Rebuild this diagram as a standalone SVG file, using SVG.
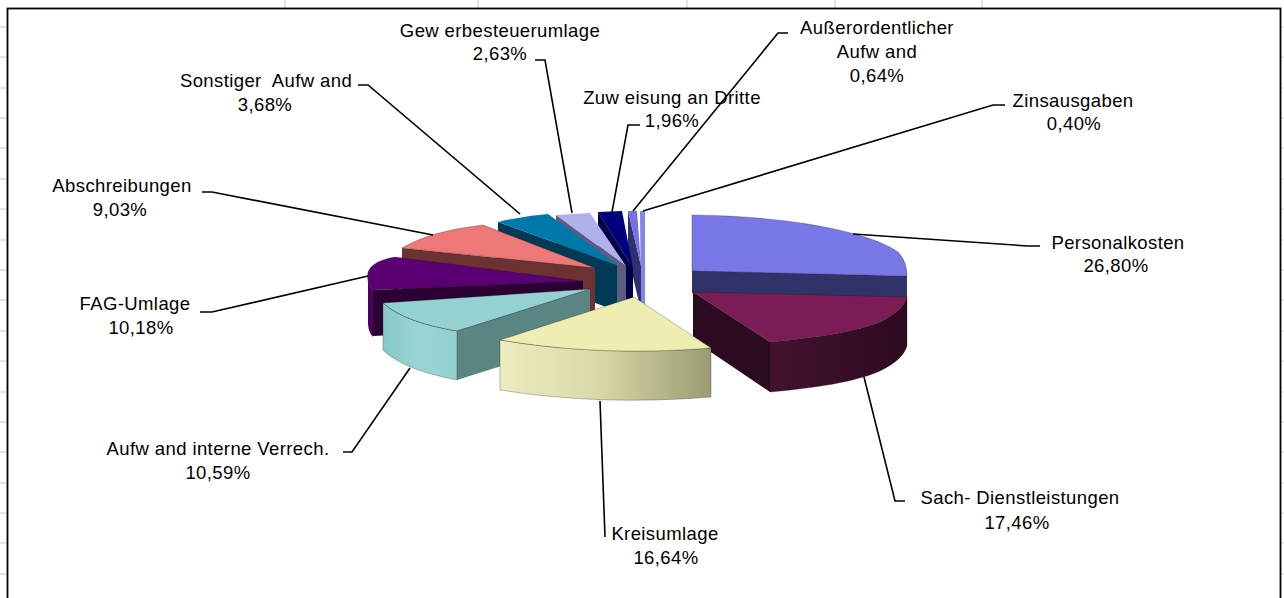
<svg xmlns="http://www.w3.org/2000/svg" width="1284" height="598" viewBox="0 0 1284 598">
<defs>
<style>
text{font-family:"Liberation Sans",Arial,sans-serif;font-size:18.5px;letter-spacing:0.4px;fill:#000;text-anchor:middle}
.ld{fill:none;stroke:#000;stroke-width:1.6;stroke-linejoin:miter}
.grid{stroke:#c8c8c8;stroke-width:1}
.e{stroke:#1a1a1a;stroke-opacity:.35;stroke-width:.8;stroke-linejoin:round}
</style>
<linearGradient id="gKreis" x1="500" y1="0" x2="712" y2="0" gradientUnits="userSpaceOnUse">
<stop offset="0" stop-color="#ececbf"/><stop offset="0.45" stop-color="#d9d9a9"/><stop offset="1" stop-color="#9b9b73"/>
</linearGradient>
<linearGradient id="gVer" x1="383" y1="0" x2="457" y2="0" gradientUnits="userSpaceOnUse">
<stop offset="0" stop-color="#88c8c8"/><stop offset="0.5" stop-color="#9ad6d6"/><stop offset="1" stop-color="#92cfcf"/>
</linearGradient>
<linearGradient id="gSach" x1="770" y1="0" x2="907" y2="0" gradientUnits="userSpaceOnUse">
<stop offset="0" stop-color="#44122f"/><stop offset="1" stop-color="#2c0a20"/>
</linearGradient>
</defs>
<rect width="1284" height="598" fill="#fff"/>
<g id="sheet-grid" class="grid">
<path d="M0,27H7M0,57H7M0,88H7M0,118H7M0,148H7M0,179H7M0,209H7M0,240H7M0,270H7M0,300H7M0,331H7M0,361H7M0,392H7M0,422H7M0,452H7M0,483H7M0,513H7M0,543H7M0,574H7"/>
<path d="M1281,27H1284M1281,57H1284M1281,88H1284M1281,118H1284M1281,148H1284M1281,179H1284M1281,209H1284M1281,240H1284M1281,270H1284M1281,300H1284M1281,331H1284M1281,361H1284M1281,392H1284M1281,422H1284M1281,452H1284M1281,483H1284M1281,513H1284M1281,543H1284M1281,574H1284"/>
<path d="M285,0V8M478,0V8M687,0V8M835,0V8M982,0V8"/>
</g>
<rect id="chart-area" x="7.5" y="8.5" width="1273" height="600" fill="#fff" stroke="#000" stroke-width="1.8"/>

<g id="slice-zinsausgaben">
<polygon points="640,211 645,211 645,308 641,308" fill="#8383ea"/>
</g>
<g id="slice-ausserordentlicher">
<polygon points="628,211 641,266 641,311 628,256" fill="#30306e"/>
<polygon points="628,211 637,211 641,266" fill="#7272e2"/>
</g>
<g id="slice-zuweisung">
<polygon points="598,212 633,268 633,312 598,257" fill="#000046"/>
<polygon points="598,212 622,211 633,268" fill="#00007e"/>
</g>
<g id="slice-gewerbesteuer">
<polygon points="556,215 626,266 626,311 556,260" fill="#5c5c84"/>
<polygon points="556,215 590,213 626,266" fill="#b0b0ea"/>
</g>
<g id="slice-sonstiger">
<polygon points="498,222 617,265 617,311 498,267" fill="#003a56"/>
<path d="M498,222 Q522,216 548,214 L617,265 Z" fill="#0079aa"/>
</g>
<g id="slice-abschreibungen">
<polygon points="402,248 595,268 595,313 402,293" fill="#6c3232"/>
<path class="e" d="M402,248 Q430,231 483,225 L595,268 Z" fill="#ee7777"/>
</g>
<g id="slice-fag">
<polygon points="373,290 583,281 583,326 373,336" fill="#2a0035"/>
<path d="M368,272 Q367,284 373,290 L373,337 Q367,331 368,318 Z" fill="#4a005e"/>
<path class="e" d="M395,257 L583,281 L373,290 Q366,283 368,272 Q372,261 395,257 Z" fill="#5b0072"/>
</g>
<g id="slice-verrech">
<polygon points="590,289 457,331 457,380 590,338" fill="#5a8582"/>
<path class="e" d="M383,303 C400,318 427,326 457,331 L457,380 C427,374 400,366 383,350 Z" fill="url(#gVer)"/>
<path class="e" d="M383,303 L590,289 L457,331 C427,326 400,318 383,303 Z" fill="#94d1d1"/>
</g>
<g id="slice-personalkosten">
<polygon points="692,270 907,276 907,298 692,293" fill="#30336a"/>
<path class="e" d="M692,215 C790,216 870,232 898,252 Q907,261 907,276 L692,271 Z" fill="#7777e8"/>
</g>
<g id="slice-sach">
<polygon points="693,292 770,342 770,392 693,340" fill="#2c0a20"/>
<path class="e" d="M770,342 C815,338 855,332 880,322 Q903,311 907,297 L907,346 Q903,360 880,371 C855,382 815,388 770,392 Z" fill="url(#gSach)"/>
<path class="e" d="M693,292 L907,297 Q903,311 880,322 C855,332 815,338 770,342 Z" fill="#7b1c56"/>
</g>
<g id="slice-kreisumlage">
<path class="e" d="M500,340 Q600,357 711,348 L711,397 Q600,406 500,390 Z" fill="url(#gKreis)"/>
<path class="e" d="M500,340 L634,297 L711,348 Q600,357 500,340 Z" fill="#eeeeb2"/>
</g>

<g id="connectors" class="ld">
<path d="M535,60 L545,60 L572,213"/>
<path d="M640,125 L628,125 L612,212"/>
<path d="M788,33 L778,33 L633,211"/>
<path d="M1005,105 L993,105 L643,211"/>
<path d="M853,234 L1028,246 L1040,246"/>
<path d="M864,377 L895,501 L905,501"/>
<path d="M600,401 L605,537"/>
<path d="M343,452 L352,452 L410,368"/>
<path d="M200,312 L212,312 L368,276"/>
<path d="M202,192 L212,192 L433,235"/>
<path d="M358,85 L368,85 L520,214"/>
</g>

<g id="labels">
<g id="label-gewerbesteuer"><text x="500" y="37">Gew erbesteuerumlage</text><text x="500" y="60">2,63%</text></g>
<g id="label-ausserordentlicher"><text x="877" y="34">Außerordentlicher</text><text x="877" y="58">Aufw and</text><text x="877" y="82">0,64%</text></g>
<g id="label-zuweisung"><text x="672" y="104">Zuw eisung an Dritte</text><text x="672" y="127">1,96%</text></g>
<g id="label-zinsausgaben"><text x="1073" y="107">Zinsausgaben</text><text x="1074" y="130">0,40%</text></g>
<g id="label-personalkosten"><text x="1118" y="249">Personalkosten</text><text x="1116" y="272">26,80%</text></g>
<g id="label-sach"><text x="1020" y="504">Sach- Dienstleistungen</text><text x="1017" y="529">17,46%</text></g>
<g id="label-kreisumlage"><text x="665" y="540">Kreisumlage</text><text x="666" y="564">16,64%</text></g>
<g id="label-verrech"><text x="218" y="455">Aufw and interne Verrech.</text><text x="218" y="479">10,59%</text></g>
<g id="label-fag"><text x="135" y="310">FAG-Umlage</text><text x="141" y="334">10,18%</text></g>
<g id="label-abschreibungen"><text x="122" y="192">Abschreibungen</text><text x="120" y="216">9,03%</text></g>
<g id="label-sonstiger"><text x="266" y="87" xml:space="preserve">Sonstiger  Aufw and</text><text x="265" y="111">3,68%</text></g>
</g>
</svg>
